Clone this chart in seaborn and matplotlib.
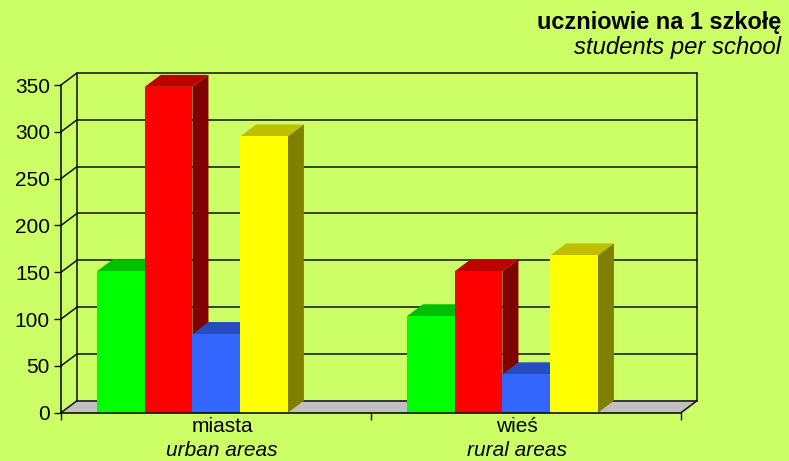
import numpy as np
import pandas as pd
import matplotlib
matplotlib.use("Agg")
import matplotlib.pyplot as plt
import matplotlib.transforms as mtransforms
from matplotlib.colors import to_rgb
import seaborn as sns

# data
categories = ["miasta", "wieś"]
categories_en = ["urban areas", "rural areas"]
series = ["s1", "s2", "s3", "s4"]
green_vals = [151, 103]
red_vals = [348, 151]
blue_vals = [84, 41]
yellow_vals = [295, 168]
yticks = [0, 50, 100, 150, 200, 250, 300, 350]

colors = ["#00FF00", "#FF0000", "#3366FF", "#FFFF00"]
bg = "#CCFF66"

df = pd.DataFrame({
    "kategoria": categories * 4,
    "seria": np.repeat(series, 2),
    "wartosc": green_vals + red_vals + blue_vals + yellow_vals,
})

sns.set_style("white")
plt.rcParams["font.family"] = ["Liberation Sans", "DejaVu Sans"]
plt.rcParams["text.color"] = "black"
plt.rcParams["xtick.color"] = "black"
plt.rcParams["ytick.color"] = "black"

fig = plt.figure(figsize=(7.89, 4.61), dpi=100, facecolor=bg)
ax = fig.add_axes([61 / 789, 48.3 / 461, 620 / 789, 327.7 / 461])
ax.set_facecolor("none")

sns.barplot(data=df, x="kategoria", y="wartosc", hue="seria", order=categories,
            hue_order=series, palette=colors, width=0.616, saturation=1,
            linewidth=0, legend=False, ax=ax)
bars = sorted(ax.patches, key=lambda p: p.get_x())

x0, x1 = -0.424, 1.576
ymax = 350
# depth of the 3D effect: 16 px right, 12 px up
DX = 16 / (620 / (x1 - x0))
DY = 12 / (327.7 / ymax)

line_kw = dict(color="#111111", lw=1.1, clip_on=False)

# floor
ax.fill([x0, x1, x1 + DX, x0 + DX], [0, 0, DY, DY], color="#C0C0C0", zorder=1, clip_on=False)
# back wall grid + frame
for v in yticks:
    ax.plot([x0 + DX, x1 + DX], [v + DY, v + DY], zorder=1.5, **line_kw)
    ax.plot([x0, x0 + DX], [v, v + DY], zorder=1.5, **line_kw)
ax.plot([x0 + DX, x0 + DX], [DY, ymax + DY], zorder=1.5, **line_kw)
ax.plot([x1 + DX, x1 + DX], [DY, ymax + DY], zorder=1.5, **line_kw)
ax.plot([x1, x1 + DX], [0, DY], zorder=1.5, **line_kw)

# 3D tops and sides, left to right so later bars cover earlier sides
for i, b in enumerate(bars):
    x, w, h = b.get_x(), b.get_width(), b.get_height()
    c = np.array(to_rgb(b.get_facecolor()))
    z = 2 + i
    ax.fill([x, x + w, x + w + DX, x + DX], [h, h, h + DY, h + DY],
            color=c * 0.75, lw=0, zorder=z, clip_on=False)
    ax.fill([x + w, x + w + DX, x + w + DX, x + w], [0, DY, h + DY, h],
            color=c * 0.5, lw=0, zorder=z, clip_on=False)
    b.set_zorder(z + 0.5)
    b.set_clip_on(False)

ax.set_xlim(x0, x1)
ax.set_ylim(0, ymax)
ax.set_yticks(yticks)
ax.tick_params(axis="y", length=5, width=1, labelsize=15, pad=3, color="#111111",
               labelcolor="black", left=True)

ax.set_xticks([0.0954, 1.047], labels=categories)
ax.tick_params(axis="x", which="major", length=0, labelsize=15, pad=3, labelcolor="black")
ax.set_xticks([x0, 0.576, x1], minor=True)
ax.tick_params(axis="x", which="minor", length=5, width=1, color="#111111", bottom=True)
ax.set_xlabel("")
ax.set_ylabel("")

trans = mtransforms.blended_transform_factory(ax.transData, fig.transFigure)
for pos, lab in zip([0.0954, 1.047], categories_en):
    ax.text(pos, 1 - 450 / 461, lab, transform=trans, ha="center", va="center",
            fontsize=15, style="italic", color="black")

sns.despine(ax=ax, top=True, right=True)
for s in ["left", "bottom"]:
    ax.spines[s].set_color("black")
    ax.spines[s].set_linewidth(1.1)
    ax.spines[s].set_zorder(20)

fig.text(781 / 789, 1 - 28.5 / 461, "uczniowie na 1 szkołę", ha="right", va="baseline",
         fontsize=16.9, fontweight="bold", color="black")
fig.text(781 / 789, 1 - 54 / 461, "students per school", ha="right", va="baseline",
         fontsize=17.2, style="italic", color="black")

fig.savefig("out.png", dpi=100, facecolor=bg)
